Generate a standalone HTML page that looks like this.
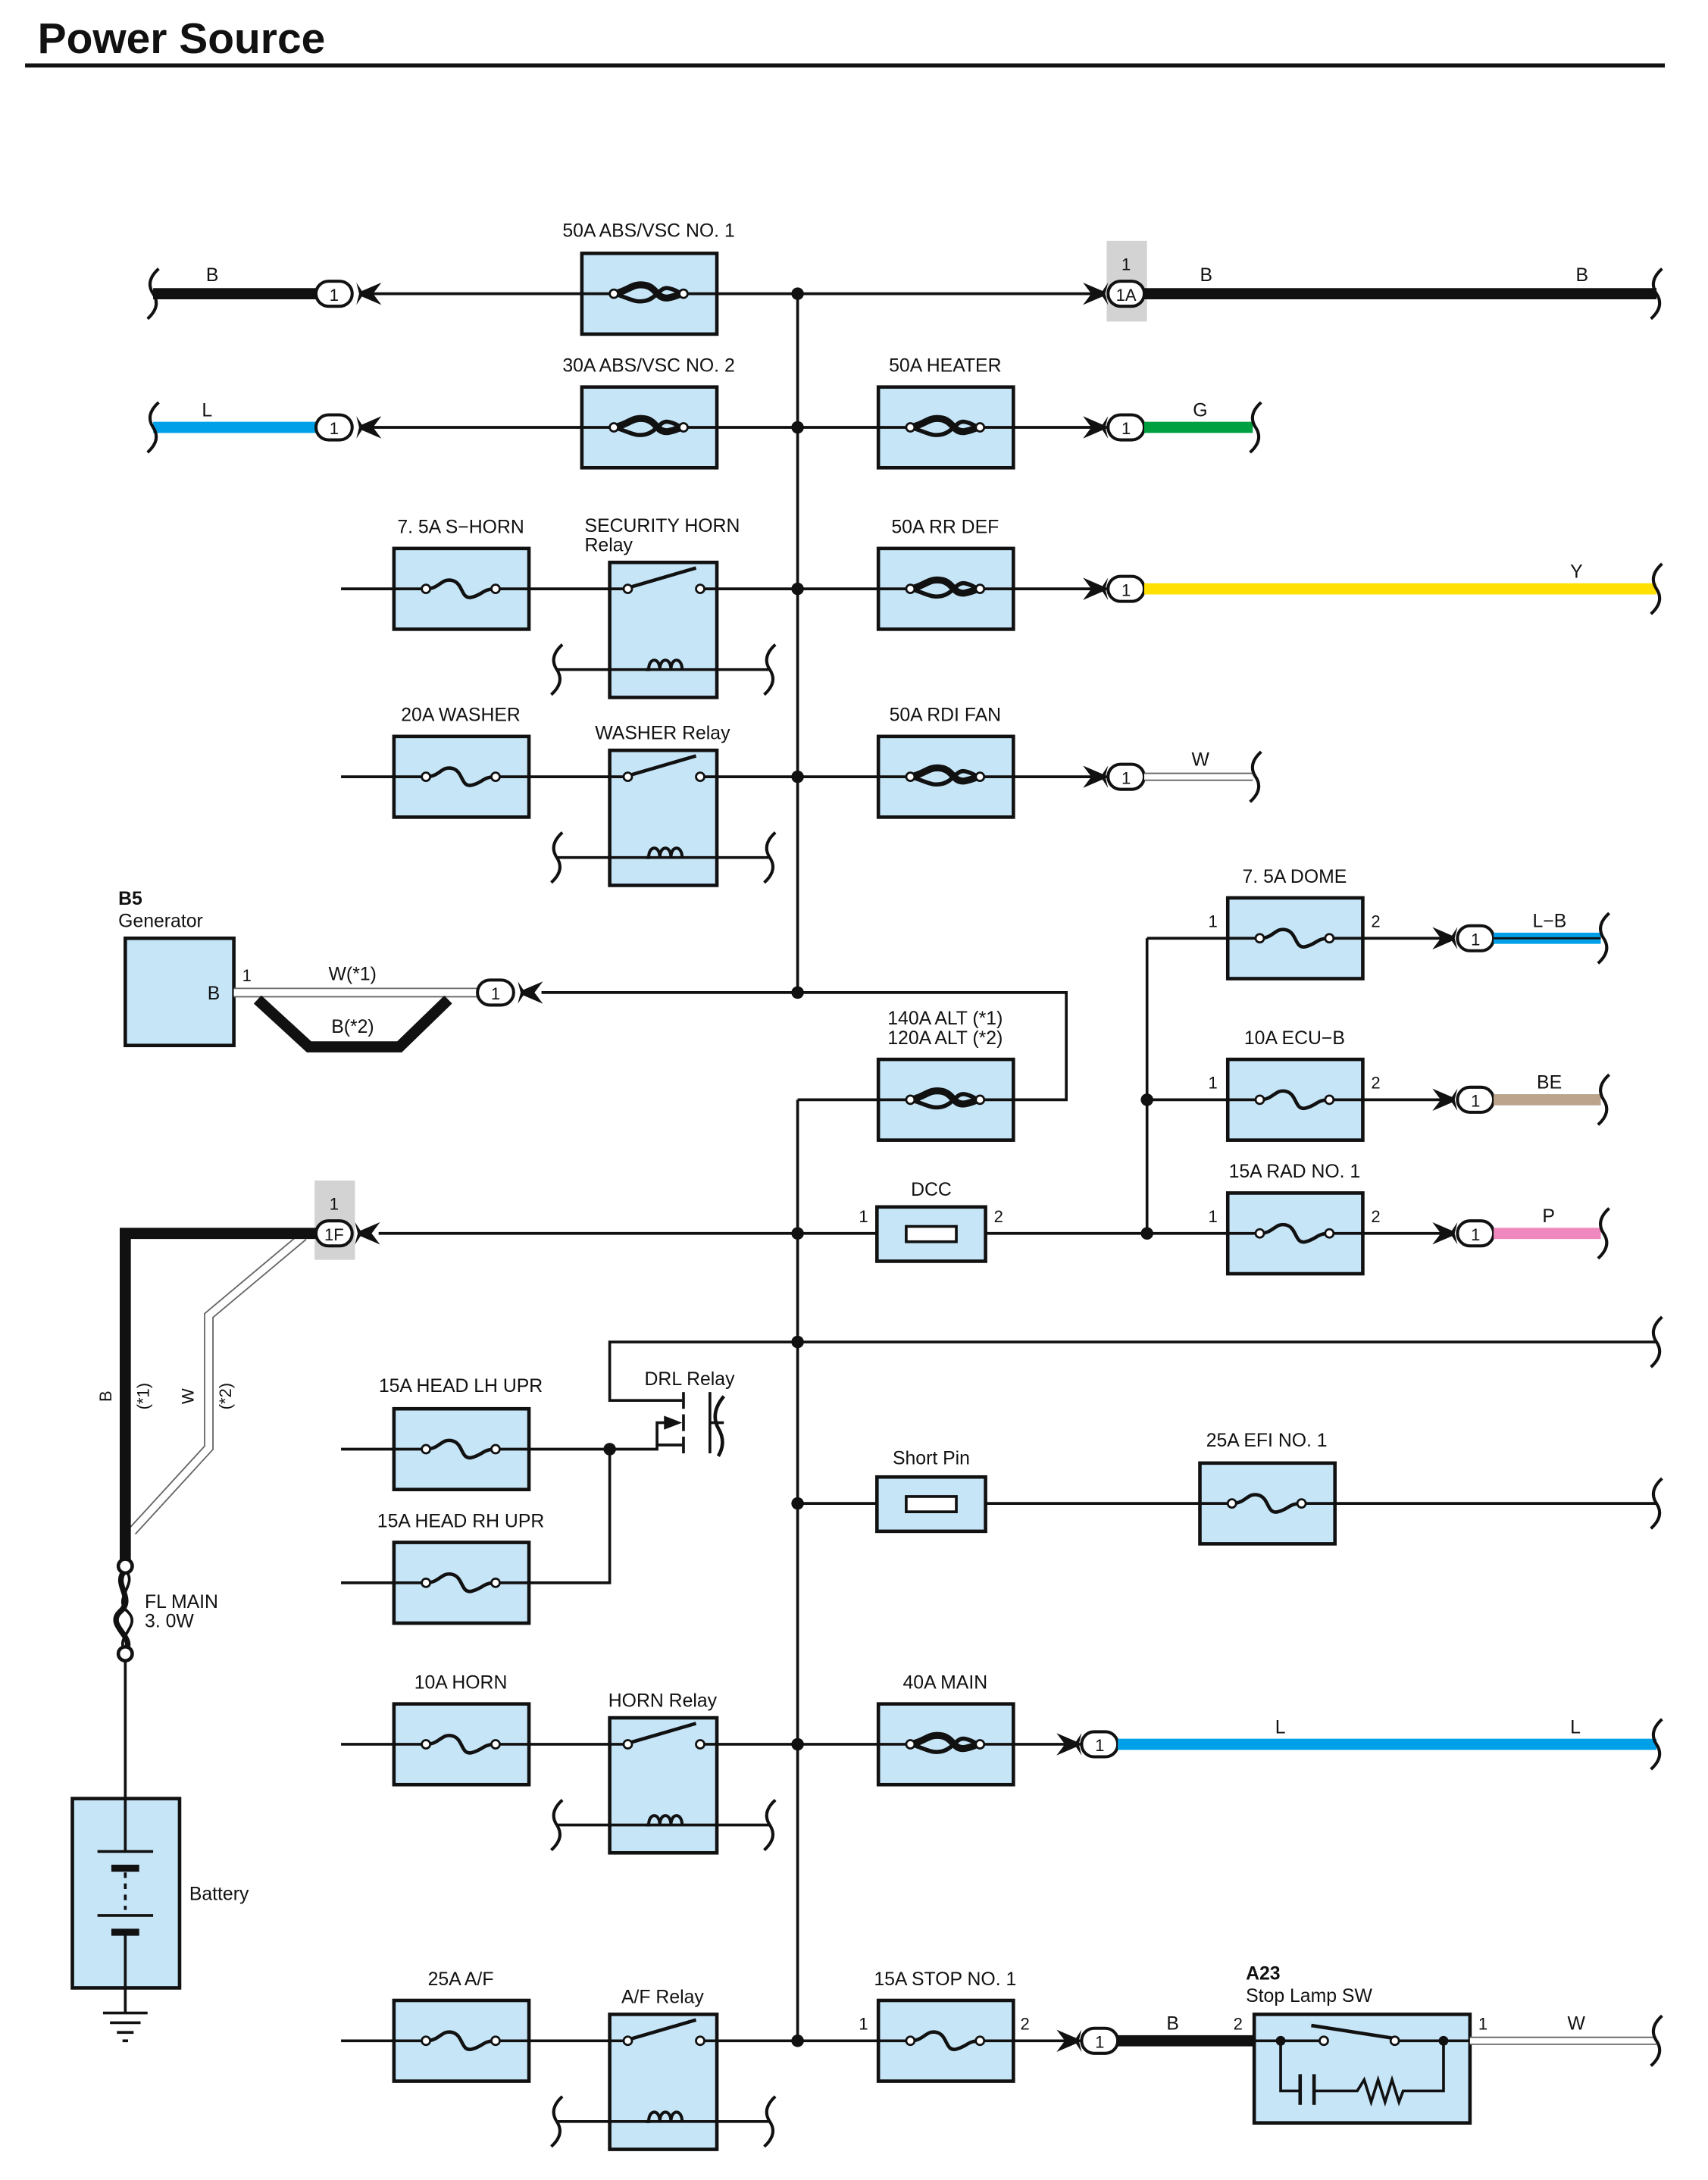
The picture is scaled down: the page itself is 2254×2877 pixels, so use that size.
<!DOCTYPE html>
<html><head><meta charset="utf-8"><style>
html,body{margin:0;padding:0;background:#fff}
svg{display:block}
text{font-family:"Liberation Sans",sans-serif;font-size:13.5px;fill:#111}
</style></head><body>
<svg width="2254" height="2877" viewBox="0 0 1227 1566" preserveAspectRatio="none" xmlns="http://www.w3.org/2000/svg">
<defs>
<g id="fz"><rect x="-48" y="-29" width="97" height="58" fill="#c6e6f8" stroke="#111" stroke-width="2.5"/>
<line x1="-48" y1="0" x2="-25" y2="0" stroke="#111" stroke-width="2"/><line x1="25" y1="0" x2="48" y2="0" stroke="#111" stroke-width="2"/>
<path d="M-25 0 C-15 0 -14 -8 -6 -6 C2 -4 0 8 8 6 C16 4 16 0 25 0" fill="none" stroke="#111" stroke-width="2.5"/>
<circle cx="-25" cy="0" r="3" fill="#fff" stroke="#111" stroke-width="1.5"/><circle cx="25" cy="0" r="3" fill="#fff" stroke="#111" stroke-width="1.5"/></g>
<g id="fl"><rect x="-48" y="-29" width="97" height="58" fill="#c6e6f8" stroke="#111" stroke-width="2.5"/>
<line x1="-48" y1="0" x2="-25" y2="0" stroke="#111" stroke-width="2"/><line x1="25" y1="0" x2="48" y2="0" stroke="#111" stroke-width="2"/>
<path d="M-25 0 C-14 -2 -12 -8 -2 -6 C6 -4 6 4 14 3 C20 2 22 0 25 0" fill="none" stroke="#111" stroke-width="5"/>
<path d="M-25 0 C-14 3 -10 7 -2 5 C6 3 8 -5 14 -4 C20 -3 22 0 25 0" fill="none" stroke="#111" stroke-width="3"/>
<circle cx="-25" cy="0" r="3" fill="#fff" stroke="#111" stroke-width="1.5"/><circle cx="25" cy="0" r="3" fill="#fff" stroke="#111" stroke-width="1.5"/></g>
<path id="we" d="M4 -18 Q-6 -9 0 0 Q6 9 -4 18" fill="none" stroke="#111" stroke-width="2.2"/>
<g id="rl"><rect x="0" y="0" width="77" height="97" fill="#c6e6f8" stroke="#111" stroke-width="2.5"/>
<line x1="0" y1="19" x2="13" y2="19" stroke="#111" stroke-width="2"/><line x1="65" y1="19" x2="77" y2="19" stroke="#111" stroke-width="2"/>
<line x1="14" y1="18" x2="62" y2="4" stroke="#111" stroke-width="2.5"/>
<circle cx="13" cy="19" r="3" fill="#fff" stroke="#111" stroke-width="1.5"/><circle cx="65" cy="19" r="3" fill="#fff" stroke="#111" stroke-width="1.5"/>
<line x1="-38" y1="77" x2="115" y2="77" stroke="#111" stroke-width="2"/>
<path d="M26 77 L28 77 C28 68 36 68 36 77 C36 68 44 68 44 77 C44 68 52 68 52 77" fill="none" stroke="#111" stroke-width="2.2"/>
<use href="#we" x="-38" y="77"/><use href="#we" x="115" y="77"/></g>
<g id="cn"><rect x="-13" y="-9" width="26" height="18" rx="9" fill="#fff" stroke="#111" stroke-width="2.2"/></g>
<polygon id="ar" points="-18,-8 -4,-2 0,-8 -2,0 0,8 -4,2 -18,8 -12,0" fill="#111"/>
<polygon id="al" points="18,-8 4,-2 0,-8 2,0 0,8 4,2 18,8 12,0" fill="#111"/>
</defs>

<text x="27" y="38" style="font-size:31px;font-weight:bold">Power Source</text>
<line x1="18" y1="47" x2="1196" y2="47" stroke="#111" stroke-width="3"/>

<line x1="573" y1="211" x2="573" y2="713" stroke="#111" stroke-width="2"/>
<line x1="573" y1="790" x2="573" y2="1466" stroke="#111" stroke-width="2"/>

<!-- row1 -->
<line x1="110" y1="211" x2="228" y2="211" stroke="#111" stroke-width="8"/>
<use href="#we" x="110" y="211"/>
<line x1="262" y1="211" x2="785" y2="211" stroke="#111" stroke-width="2"/>
<rect x="795" y="173" width="29" height="58" fill="#d3d3d3"/>
<line x1="822" y1="211" x2="1190" y2="211" stroke="#111" stroke-width="8"/>
<use href="#we" x="1190" y="211"/>
<use href="#cn" x="240" y="211"/><text x="240" y="216" text-anchor="middle" style="font-size:12px">1</text><use href="#al" x="256" y="211"/>
<use href="#fl" x="466" y="211"/><text x="466" y="170" text-anchor="middle">50A ABS/VSC NO. 1</text>
<use href="#ar" x="796" y="211"/><use href="#cn" x="809" y="211"/><text x="809" y="216" text-anchor="middle" style="font-size:12px">1A</text><text x="809" y="194" text-anchor="middle" style="font-size:12px">1</text>
<text x="148" y="202">B</text><text x="862" y="202">B</text><text x="1132" y="202">B</text>

<!-- row2 -->
<line x1="110" y1="307" x2="228" y2="307" stroke="#00a0e9" stroke-width="8"/><use href="#we" x="110" y="307"/>
<line x1="262" y1="307" x2="800" y2="307" stroke="#111" stroke-width="2"/>
<use href="#cn" x="240" y="307"/><text x="240" y="312" text-anchor="middle" style="font-size:12px">1</text><use href="#al" x="256" y="307"/>
<use href="#fl" x="466" y="307"/><text x="466" y="267" text-anchor="middle">30A ABS/VSC NO. 2</text>
<use href="#fl" x="679" y="307"/><text x="679" y="267" text-anchor="middle">50A HEATER</text>
<use href="#ar" x="796" y="307"/><use href="#cn" x="809" y="307"/><text x="809" y="312" text-anchor="middle" style="font-size:12px">1</text>
<line x1="822" y1="307" x2="900" y2="307" stroke="#00a040" stroke-width="8"/><use href="#we" x="902" y="307"/>
<text x="857" y="299">G</text><text x="145" y="299">L</text>

<!-- row3 -->
<line x1="245" y1="423" x2="800" y2="423" stroke="#111" stroke-width="2"/>
<use href="#fz" x="331" y="423"/><text x="331" y="383" text-anchor="middle">7. 5A S−HORN</text>
<use href="#rl" x="438" y="404"/><text x="420" y="382">SECURITY HORN</text><text x="420" y="396">Relay</text>
<use href="#fl" x="679" y="423"/><text x="679" y="383" text-anchor="middle">50A RR DEF</text>
<use href="#ar" x="796" y="423"/><use href="#cn" x="809" y="423"/><text x="809" y="428" text-anchor="middle" style="font-size:12px">1</text>
<line x1="822" y1="423" x2="1190" y2="423" stroke="#ffe000" stroke-width="8"/><use href="#we" x="1190" y="423"/><text x="1128" y="415">Y</text>

<!-- row4 -->
<line x1="245" y1="558" x2="800" y2="558" stroke="#111" stroke-width="2"/>
<use href="#fz" x="331" y="558"/><text x="331" y="518" text-anchor="middle">20A WASHER</text>
<use href="#rl" x="438" y="539"/><text x="476" y="531" text-anchor="middle">WASHER Relay</text>
<use href="#fl" x="679" y="558"/><text x="679" y="518" text-anchor="middle">50A RDI FAN</text>
<use href="#ar" x="796" y="558"/><use href="#cn" x="809" y="558"/><text x="809" y="563" text-anchor="middle" style="font-size:12px">1</text>
<line x1="822" y1="558" x2="900" y2="558" stroke="#666" stroke-width="6"/><line x1="822" y1="558" x2="900" y2="558" stroke="#fff" stroke-width="4"/><use href="#we" x="902" y="558"/><text x="856" y="550">W</text>

<!-- generator -->
<text x="85" y="650" style="font-weight:bold">B5</text><text x="85" y="666">Generator</text>
<rect x="90" y="674" width="78" height="77" fill="#c6e6f8" stroke="#111" stroke-width="2.5"/><text x="149" y="718">B</text>
<text x="174" y="705" style="font-size:12px">1</text>
<line x1="168" y1="713" x2="345" y2="713" stroke="#666" stroke-width="7"/><line x1="168" y1="713" x2="345" y2="713" stroke="#fff" stroke-width="5"/>
<polyline points="185,718 222,752 287,752 322,718" fill="none" stroke="#111" stroke-width="8"/>
<text x="236" y="704">W(*1)</text><text x="238" y="742">B(*2)</text>
<use href="#cn" x="356" y="713"/><text x="356" y="718" text-anchor="middle" style="font-size:12px">1</text><use href="#al" x="372" y="713"/>
<polyline points="389,713 766,713 766,790 728,790" fill="none" stroke="#111" stroke-width="2"/>
<line x1="573" y1="790" x2="630" y2="790" stroke="#111" stroke-width="2"/>
<use href="#fl" x="679" y="790"/><text x="679" y="736" text-anchor="middle">140A ALT (*1)</text><text x="679" y="750" text-anchor="middle">120A ALT (*2)</text>

<!-- right fuses -->
<line x1="824" y1="674" x2="824" y2="886" stroke="#111" stroke-width="2"/>
<line x1="824" y1="674" x2="1045" y2="674" stroke="#111" stroke-width="2"/>
<line x1="824" y1="790" x2="1045" y2="790" stroke="#111" stroke-width="2"/>
<line x1="824" y1="886" x2="1045" y2="886" stroke="#111" stroke-width="2"/>
<use href="#fz" x="930" y="674"/><text x="930" y="634" text-anchor="middle">7. 5A DOME</text><text x="868" y="666" style="font-size:12px">1</text><text x="985" y="666" style="font-size:12px">2</text>
<use href="#fz" x="930" y="790"/><text x="930" y="750" text-anchor="middle">10A ECU−B</text><text x="868" y="782" style="font-size:12px">1</text><text x="985" y="782" style="font-size:12px">2</text>
<use href="#fz" x="930" y="886"/><text x="930" y="846" text-anchor="middle">15A RAD NO. 1</text><text x="868" y="878" style="font-size:12px">1</text><text x="985" y="878" style="font-size:12px">2</text>
<use href="#ar" x="1047" y="674"/><use href="#cn" x="1060" y="674"/><text x="1060" y="679" text-anchor="middle" style="font-size:12px">1</text>
<use href="#ar" x="1047" y="790"/><use href="#cn" x="1060" y="790"/><text x="1060" y="795" text-anchor="middle" style="font-size:12px">1</text>
<use href="#ar" x="1047" y="886"/><use href="#cn" x="1060" y="886"/><text x="1060" y="891" text-anchor="middle" style="font-size:12px">1</text>
<line x1="1073" y1="674" x2="1150" y2="674" stroke="#00a0e9" stroke-width="8"/><line x1="1073" y1="674" x2="1150" y2="674" stroke="#111" stroke-width="1.5"/><use href="#we" x="1152" y="674"/><text x="1101" y="666">L−B</text>
<line x1="1073" y1="790" x2="1150" y2="790" stroke="#bca48c" stroke-width="8"/><use href="#we" x="1152" y="790"/><text x="1104" y="782">BE</text>
<line x1="1073" y1="886" x2="1150" y2="886" stroke="#f088c0" stroke-width="8"/><use href="#we" x="1152" y="886"/><text x="1108" y="878">P</text>

<!-- row 1F -->
<rect x="226" y="848" width="29" height="57" fill="#d3d3d3"/>
<polyline points="95,1100 150,1040 150,945 218,888" fill="none" stroke="#666" stroke-width="7"/>
<polyline points="95,1100 150,1040 150,945 218,888" fill="none" stroke="#fff" stroke-width="5"/>
<polyline points="228,886 90,886 90,1122" fill="none" stroke="#111" stroke-width="8"/>
<use href="#cn" x="240" y="886"/><text x="240" y="891" text-anchor="middle" style="font-size:12px">1F</text><text x="240" y="869" text-anchor="middle" style="font-size:12px">1</text><use href="#al" x="255" y="886"/>
<line x1="272" y1="886" x2="824" y2="886" stroke="#111" stroke-width="2"/>
<rect x="630" y="867" width="78" height="39" fill="#c6e6f8" stroke="#111" stroke-width="2.5"/>
<rect x="651" y="881" width="36" height="11" fill="#fff" stroke="#111" stroke-width="2"/>
<text x="669" y="859" text-anchor="middle">DCC</text><text x="617" y="878" style="font-size:12px">1</text><text x="714" y="878" style="font-size:12px">2</text>
<g transform="translate(80,1003) rotate(-90)"><text x="0" y="0" text-anchor="middle" style="font-size:12px">B</text></g>
<g transform="translate(107,1003) rotate(-90)"><text x="0" y="0" text-anchor="middle" style="font-size:12px">(*1)</text></g>
<g transform="translate(139,1003) rotate(-90)"><text x="0" y="0" text-anchor="middle" style="font-size:12px">W</text></g>
<g transform="translate(166,1003) rotate(-90)"><text x="0" y="0" text-anchor="middle" style="font-size:12px">(*2)</text></g>

<!-- DRL -->
<line x1="573" y1="964" x2="1190" y2="964" stroke="#111" stroke-width="2"/><use href="#we" x="1190" y="964"/>
<polyline points="573,964 438,964 438,1006 490,1006" fill="none" stroke="#111" stroke-width="2"/>
<text x="463" y="995">DRL Relay</text>
<line x1="491" y1="1000" x2="491" y2="1012" stroke="#111" stroke-width="2"/>
<line x1="491" y1="1016" x2="491" y2="1028" stroke="#111" stroke-width="2"/>
<line x1="491" y1="1032" x2="491" y2="1044" stroke="#111" stroke-width="2"/>
<line x1="510" y1="1000" x2="510" y2="1044" stroke="#111" stroke-width="2"/>
<line x1="510" y1="1022" x2="520" y2="1022" stroke="#111" stroke-width="2"/>
<path d="M520 1003 Q510 1015 516 1026 Q522 1036 516 1046" fill="none" stroke="#111" stroke-width="2.5"/>
<polygon points="477,1017 490,1022 477,1027" fill="#111"/>
<polyline points="380,1041 472,1041 472,1022 478,1022" fill="none" stroke="#111" stroke-width="2"/>
<line x1="472" y1="1038" x2="490" y2="1038" stroke="#111" stroke-width="2"/>
<line x1="245" y1="1041" x2="283" y2="1041" stroke="#111" stroke-width="2"/>
<use href="#fz" x="331" y="1041"/><text x="331" y="1000" text-anchor="middle">15A HEAD LH UPR</text>
<line x1="245" y1="1137" x2="283" y2="1137" stroke="#111" stroke-width="2"/>
<use href="#fz" x="331" y="1137"/><text x="331" y="1097" text-anchor="middle">15A HEAD RH UPR</text>
<polyline points="380,1137 438,1137 438,1041" fill="none" stroke="#111" stroke-width="2"/>

<!-- short pin -->
<line x1="573" y1="1080" x2="1190" y2="1080" stroke="#111" stroke-width="2"/><use href="#we" x="1190" y="1080"/>
<rect x="630" y="1061" width="78" height="39" fill="#c6e6f8" stroke="#111" stroke-width="2.5"/>
<rect x="651" y="1075" width="36" height="11" fill="#fff" stroke="#111" stroke-width="2"/>
<text x="669" y="1052" text-anchor="middle">Short Pin</text>
<use href="#fz" x="910" y="1080"/><text x="910" y="1039" text-anchor="middle">25A EFI NO. 1</text>

<!-- FL MAIN / battery -->
<line x1="90" y1="1188" x2="90" y2="1292" stroke="#111" stroke-width="2"/>
<path d="M90 1128 C80 1138 98 1148 86 1158 C76 1168 98 1176 90 1186" fill="none" stroke="#111" stroke-width="4"/>
<path d="M90 1128 C100 1138 80 1148 92 1158 C102 1168 82 1176 90 1186" fill="none" stroke="#111" stroke-width="2"/>
<circle cx="90" cy="1125" r="5" fill="#fff" stroke="#111" stroke-width="2.5"/><circle cx="90" cy="1188" r="5" fill="#fff" stroke="#111" stroke-width="2.5"/>
<text x="104" y="1155">FL MAIN</text><text x="104" y="1169">3. 0W</text>
<rect x="52" y="1292" width="77" height="136" fill="#c6e6f8" stroke="#111" stroke-width="2.5"/>
<line x1="90" y1="1292" x2="90" y2="1330" stroke="#111" stroke-width="2"/>
<line x1="90" y1="1390" x2="90" y2="1428" stroke="#111" stroke-width="2"/>
<line x1="70" y1="1330" x2="110" y2="1330" stroke="#111" stroke-width="2"/>
<line x1="80" y1="1342" x2="100" y2="1342" stroke="#111" stroke-width="5"/>
<line x1="90" y1="1345" x2="90" y2="1372" stroke="#111" stroke-width="2" stroke-dasharray="4,4"/>
<line x1="70" y1="1376" x2="110" y2="1376" stroke="#111" stroke-width="2"/>
<line x1="80" y1="1388" x2="100" y2="1388" stroke="#111" stroke-width="5"/>
<text x="136" y="1365">Battery</text>
<line x1="90" y1="1428" x2="90" y2="1446" stroke="#111" stroke-width="2"/>
<line x1="74" y1="1446" x2="106" y2="1446" stroke="#111" stroke-width="2"/>
<line x1="79" y1="1453" x2="101" y2="1453" stroke="#111" stroke-width="2"/>
<line x1="84" y1="1460" x2="96" y2="1460" stroke="#111" stroke-width="2"/>
<line x1="88" y1="1466" x2="92" y2="1466" stroke="#111" stroke-width="2"/>

<!-- horn row -->
<line x1="245" y1="1253" x2="780" y2="1253" stroke="#111" stroke-width="2"/>
<use href="#fz" x="331" y="1253"/><text x="331" y="1213" text-anchor="middle">10A HORN</text>
<use href="#rl" x="438" y="1234"/><text x="476" y="1226" text-anchor="middle">HORN Relay</text>
<use href="#fl" x="679" y="1253"/><text x="679" y="1213" text-anchor="middle">40A MAIN</text>
<use href="#ar" x="777" y="1253"/><use href="#cn" x="790" y="1253"/><text x="790" y="1258" text-anchor="middle" style="font-size:12px">1</text>
<line x1="803" y1="1253" x2="1190" y2="1253" stroke="#00a0e9" stroke-width="8"/><use href="#we" x="1190" y="1253"/>
<text x="916" y="1245">L</text><text x="1128" y="1245">L</text>

<!-- A/F row -->
<line x1="245" y1="1466" x2="780" y2="1466" stroke="#111" stroke-width="2"/>
<use href="#fz" x="331" y="1466"/><text x="331" y="1426" text-anchor="middle">25A A/F</text>
<use href="#rl" x="438" y="1447"/><text x="476" y="1439" text-anchor="middle">A/F Relay</text>
<use href="#fz" x="679" y="1466"/><text x="679" y="1426" text-anchor="middle">15A STOP NO. 1</text><text x="617" y="1458" style="font-size:12px">1</text><text x="733" y="1458" style="font-size:12px">2</text>
<use href="#ar" x="777" y="1466"/><use href="#cn" x="790" y="1466"/><text x="790" y="1471" text-anchor="middle" style="font-size:12px">1</text>
<line x1="803" y1="1466" x2="901" y2="1466" stroke="#111" stroke-width="8"/><text x="838" y="1458">B</text><text x="886" y="1458" style="font-size:12px">2</text>
<text x="895" y="1422" style="font-weight:bold">A23</text><text x="895" y="1438">Stop Lamp SW</text>
<rect x="901" y="1447" width="155" height="78" fill="#c6e6f8" stroke="#111" stroke-width="2.5"/>
<line x1="901" y1="1466" x2="948" y2="1466" stroke="#111" stroke-width="2"/>
<line x1="1005" y1="1466" x2="1056" y2="1466" stroke="#111" stroke-width="2"/>
<line x1="942" y1="1455" x2="1000" y2="1464" stroke="#111" stroke-width="2.5"/>
<circle cx="951" cy="1466" r="3" fill="#fff" stroke="#111" stroke-width="1.5"/><circle cx="1002" cy="1466" r="3" fill="#fff" stroke="#111" stroke-width="1.5"/>
<circle cx="920" cy="1466" r="3.5" fill="#111"/><circle cx="1037" cy="1466" r="3.5" fill="#111"/>
<polyline points="920,1466 920,1502 934,1502" fill="none" stroke="#111" stroke-width="2"/>
<line x1="934" y1="1490" x2="934" y2="1512" stroke="#111" stroke-width="2.5"/><line x1="944" y1="1490" x2="944" y2="1512" stroke="#111" stroke-width="2.5"/>
<polyline points="944,1502 975,1502 980,1494 985,1510 990,1494 995,1510 1000,1494 1005,1510 1008,1502 1037,1502 1037,1466" fill="none" stroke="#111" stroke-width="2"/>
<text x="1062" y="1458" style="font-size:12px">1</text>
<line x1="1056" y1="1466" x2="1190" y2="1466" stroke="#666" stroke-width="6"/><line x1="1056" y1="1466" x2="1190" y2="1466" stroke="#fff" stroke-width="4"/><use href="#we" x="1190" y="1466"/><text x="1126" y="1458">W</text>

<g fill="#111">
<circle cx="573" cy="211" r="4.5"/><circle cx="573" cy="307" r="4.5"/><circle cx="573" cy="423" r="4.5"/><circle cx="573" cy="558" r="4.5"/><circle cx="573" cy="713" r="4.5"/><circle cx="573" cy="886" r="4.5"/><circle cx="573" cy="964" r="4.5"/><circle cx="573" cy="1080" r="4.5"/><circle cx="573" cy="1253" r="4.5"/><circle cx="573" cy="1466" r="4.5"/>
<circle cx="824" cy="790" r="4.5"/><circle cx="824" cy="886" r="4.5"/><circle cx="438" cy="1041" r="4.5"/>
</g>
</svg>
</body></html>
